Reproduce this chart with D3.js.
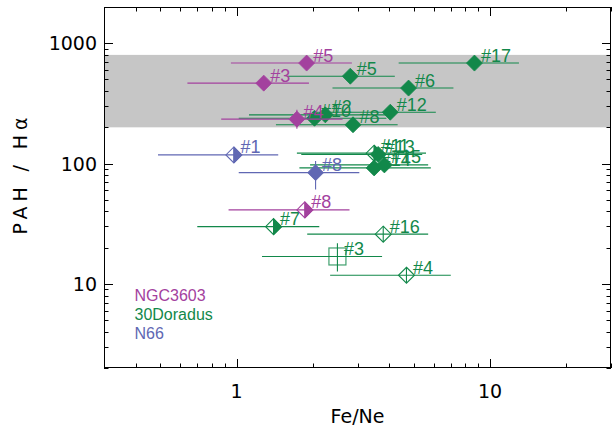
<!DOCTYPE html>
<html><head><meta charset="utf-8">
<script src="https://cdn.jsdelivr.net/npm/d3@7"></script>
<style>body{margin:0;background:#fff}</style>
</head><body>
<svg id="c" width="612" height="426"></svg>
<script>
// ---------- data ----------
const xTickValues = [1, 10];
const xTickLabels = ["1", "10"];
const yTickValues = [10, 100, 1000];
const yTickLabels = ["10", "100", "1000"];
const bandRange = [200, 800];
const legendNames = ["NGC3603", "30Doradus", "N66"];

// 30 Doradus
const dorIds   = ["#17","#5","#6","#12","#8","#10","#2","#11","#13","#14","#15","#16","#7","#3","#4"];
const dorFeNe  = [8.68, 2.81, 4.77, 4.04, 2.88, 2.03, 2.24, 3.49, 3.62, 3.49, 3.83, 3.79, 1.40, 2.50, 4.68];
const dorPah   = [684, 532, 424, 267, 210, 238, 254, 122, 119, 92, 97.5, 25.9, 29.9, 16.9, 11.8];
const dorXlo   = [4.36, 1.59, 2.39, 2.05, 1.43, 1.02, 1.12, 1.73, 1.80, 1.77, 1.95, 1.90, 0.70, 1.26, 2.34];
const dorXhi   = [13.0, 4.21, 7.17, 6.11, 4.32, 3.90, 4.20, 5.59, 5.40, 5.84, 5.70, 5.70, 2.12, 3.75, 7.00];
const dorYlo   = [600, 470, 375, 235, 185, 210, 225, 107, 105, 81, 86, 22.3, 25.8, 12.7, 10.2];
const dorYhi   = [780, 600, 480, 305, 238, 270, 288, 140, 136, 105, 111, 30.1, 34.6, 21.8, 13.7];
const dorSym   = ["filled","filled","filled","filled","filled","filled","filled","half","filled","filled","filled","open","half","square","open"];

// NGC 3603
const ngcIds   = ["#5","#3","#4","#8"];
const ngcFeNe  = [1.89, 1.28, 1.73, 1.86];
const ngcPah   = [684, 466, 234, 41.2];
const ngcXlo   = [0.95, 0.64, 0.87, 0.93];
const ngcXhi   = [2.85, 1.93, 2.62, 2.79];
const ngcYlo   = [600, 410, 195, 36];
const ngcYhi   = [780, 530, 280, 47];
const ngcSym   = ["filled","filled","filled","half"];

// N66
const n66Ids   = ["#1","#8"];
const n66FeNe  = [0.976, 2.05];
const n66Pah   = [118, 84];
const n66Xlo   = [0.49, 1.02];
const n66Xhi   = [1.46, 3.05];
const n66Ylo   = [103, 61];
const n66Yhi   = [135, 105];
const n66Sym   = ["half","filled"];

// ---------- build ----------
const colors = {"NGC3603":"#a3419e", "30Doradus":"#12884a", "N66":"#6067b3"};
function build(name, ids, fx, py, xlo, xhi, ylo, yhi, sym){
  return ids.map((id,i)=>({name, id, x:fx[i], y:py[i], xlo:xlo[i], xhi:xhi[i], ylo:ylo[i], yhi:yhi[i], sym:sym[i]}));
}
const series = [
  build("30Doradus", dorIds, dorFeNe, dorPah, dorXlo, dorXhi, dorYlo, dorYhi, dorSym),
  build("NGC3603", ngcIds, ngcFeNe, ngcPah, ngcXlo, ngcXhi, ngcYlo, ngcYhi, ngcSym),
  build("N66", n66Ids, n66FeNe, n66Pah, n66Xlo, n66Xhi, n66Ylo, n66Yhi, n66Sym)
];

const L = 104, R = 611, T = 7, B = 368;
const x = d3.scaleLog().domain([0.3, 30]).range([L, R]);
const y = d3.scaleLog().domain([2, 2000]).range([B, T]);

const svg = d3.select("#c");

// grey band
svg.append("rect")
  .attr("x", L).attr("width", R - L)
  .attr("y", y(bandRange[1])).attr("height", y(bandRange[0]) - y(bandRange[1]))
  .attr("fill", "#c6c6c6");

// points
const plot = svg.append("g");
series.forEach(s => {
  s.forEach(d => {
    const c = colors[d.name];
    const g = plot.append("g");
    g.append("line").attr("x1", x(d.xlo)).attr("x2", x(d.xhi)).attr("y1", y(d.y)).attr("y2", y(d.y))
      .attr("stroke", c).attr("stroke-width", 1.1);
    g.append("line").attr("x1", x(d.x)).attr("x2", x(d.x)).attr("y1", y(d.ylo)).attr("y2", y(d.yhi))
      .attr("stroke", c).attr("stroke-width", 1.1);
    const cx = x(d.x), cy = y(d.y), r = 8;
    const dia = `M${cx},${cy-r}L${cx+r},${cy}L${cx},${cy+r}L${cx-r},${cy}Z`;
    if (d.sym === "filled") {
      g.append("path").attr("d", dia).attr("fill", c).attr("stroke", c).attr("stroke-width", 0.8);
    } else if (d.sym === "open") {
      g.append("path").attr("d", dia).attr("fill", "none").attr("stroke", c).attr("stroke-width", 1.1);
    } else if (d.sym === "half") {
      g.append("path").attr("d", dia).attr("fill", "none").attr("stroke", c).attr("stroke-width", 1.1);
      g.append("path").attr("d", `M${cx},${cy-r}L${cx+r},${cy}L${cx},${cy+r}Z`).attr("fill", c).attr("stroke", c).attr("stroke-width", 0.8);
    } else if (d.sym === "square") {
      g.append("rect").attr("x", cx-8.5).attr("y", cy-8.5).attr("width", 17).attr("height", 17)
        .attr("fill", "none").attr("stroke", c).attr("stroke-width", 1.2).attr("opacity", 0.8);
    }
    g.append("text").attr("x", cx + 6.5).attr("y", cy - 1.5).text(d.id)
      .attr("fill", c).attr("font-family", "Liberation Sans, Arial, sans-serif").attr("font-size", 18);
  });
});

// legend
legendNames.forEach((n, i) => {
  svg.append("text").attr("x", 134.5).attr("y", 301 + i * 19).text(n)
    .attr("fill", colors[n]).attr("font-family", "Liberation Sans, Arial, sans-serif").attr("font-size", 16);
});

// axes frame & ticks
const ax = svg.append("g").attr("stroke", "#000").attr("stroke-width", 1).attr("fill", "none");
ax.append("rect").attr("x", L + 0.5).attr("y", T + 0.5).attr("width", R - L - 1).attr("height", B - T - 1);

const xMajor = xTickValues;
const xMinor = [];
[0.1, 1, 10].forEach(dec => { for (let k = 2; k <= 9; k++) { const v = k * dec; if (v >= 0.3 && v <= 30 && !xMajor.includes(v)) xMinor.push(v); } });
const yMajor = yTickValues;
const yMinor = [];
[1, 10, 100, 1000].forEach(dec => { for (let k = 2; k <= 9; k++) { const v = k * dec; if (v >= 2 && v <= 2000) yMinor.push(v); } });

function xt(v, len) {
  const px = Math.round(x(v)) + 0.5;
  ax.append("line").attr("x1", px).attr("x2", px).attr("y1", B).attr("y2", B - len);
  ax.append("line").attr("x1", px).attr("x2", px).attr("y1", T).attr("y2", T + len);
}
function yt(v, len) {
  const py = Math.round(y(v)) + 0.5;
  ax.append("line").attr("x1", L).attr("x2", L + len).attr("y1", py).attr("y2", py);
  ax.append("line").attr("x1", R).attr("x2", R - len).attr("y1", py).attr("y2", py);
}
xMajor.forEach(v => xt(v, 9));
xMinor.forEach(v => xt(v, 4.5));
yMajor.forEach(v => yt(v, 9));
yMinor.forEach(v => yt(v, 4.5));

// tick labels
const tf = "DejaVu Sans, sans-serif";
xTickValues.forEach((v, i) => {
  svg.append("text").attr("x", x(v)).attr("y", 398).attr("text-anchor", "middle")
    .attr("font-family", tf).attr("font-size", 19).attr("fill", "#000").text(xTickLabels[i]);
});
yTickValues.forEach((v, i) => {
  svg.append("text").attr("x", 97).attr("y", y(v) + 7).attr("text-anchor", "end")
    .attr("font-family", tf).attr("font-size", 19).attr("fill", "#000").text(yTickLabels[i]);
});

// titles
svg.append("text").attr("x", 357.5).attr("y", 422.5).attr("text-anchor", "middle")
  .attr("font-family", tf).attr("font-size", 19).attr("fill", "#000").text("Fe/Ne");
svg.append("text").attr("transform", "translate(26.5,176) rotate(-90)").attr("text-anchor", "middle")
  .attr("font-family", tf).attr("font-size", 19).attr("fill", "#000")
  .attr("textLength", 117).attr("lengthAdjust", "spacing").text("PAH / Hα");
</script>
</body></html>
